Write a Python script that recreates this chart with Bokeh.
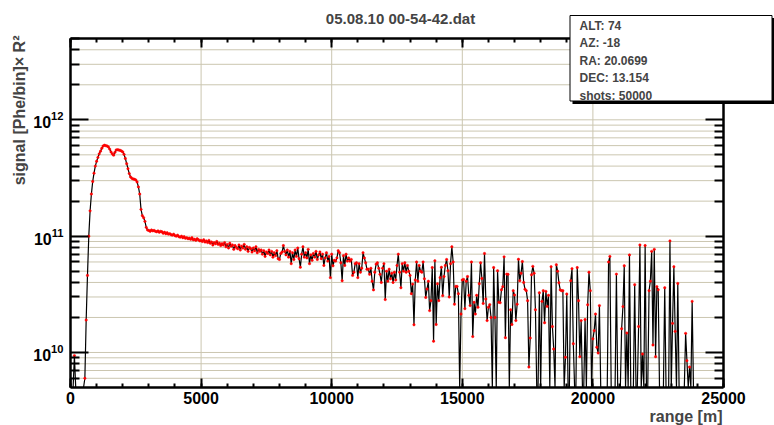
import math
import numpy as np
from bokeh.plotting import figure
from bokeh.models import (Range1d, LinearAxis, LogAxis, FixedTicker, SingleIntervalTicker,
                          LogTickFormatter, Label, BoxAnnotation, ColumnDataSource)
from bokeh.embed import file_html
from bokeh.resources import INLINE

# ---------------- texts ----------------
TITLE = "05.08.10 00-54-42.dat"
X_LABEL = "range [m]"
Y_LABEL = "signal [Phe/bin]\u00d7 R\u00b2"
STATS = ["ALT: 74", "AZ: -18", "RA: 20.0699", "DEC: 13.154", "shots: 50000"]

# ---------------- axes ----------------
X_RANGE = (0, 25000)
Y_RANGE = (5e9, 5e12)
X_TICK_STEP = 5000
X_GRID = [5000, 10000, 15000, 20000]
Y_MAJOR_TICKS = [1e10, 1e11, 1e12]
Y_MINOR_TICKS = [6e9, 7e9, 8e9, 9e9,
                 2e10, 3e10, 4e10, 5e10, 6e10, 7e10, 8e10, 9e10,
                 2e11, 3e11, 4e11, 5e11, 6e11, 7e11, 8e11, 9e11,
                 2e12, 3e12, 4e12, 5e12]

# ---------------- data (signal in units of 1e10, one value per 50 m bin) ----------------
BIN_WIDTH_M = 50.0
SIGNAL_UNIT = 1e10
# 0 - 2950 m
signal_near = [0.1, 0.1, 0.1, 0.94, 0.1, 0.1, 0.1, 0.1, 0.1, 0.1,
               0.1, 0.6, 1.9, 4.6, 10.0, 16.5, 23.0, 29.5, 34.8, 40.0,
               44.0, 47.5, 51.0, 53.8, 57.0, 59.5, 60.5, 60.0, 59.5, 58.5,
               56.0, 53.0, 51.0, 49.7, 52.5, 55.0, 55.3, 55.0, 54.6, 54.0,
               53.0, 50.5, 46.5, 42.0, 38.0, 34.5, 32.3, 31.4, 31.0, 30.8,
               30.4, 29.2, 26.5, 23.0, 17.0, 15.0, 14.4, 13.4, 11.9, 11.3]
# 3000 - 5000 m
signal_plateau = [11.2, 11.0, 11.3, 11.1, 11.2, 11.0, 10.9, 11.1, 10.8, 11.0,
                  10.9, 10.6, 10.8, 10.5, 10.7, 10.4, 10.5, 10.3, 10.2, 10.4,
                  10.1, 10.0, 10.2, 9.9, 9.8, 10.0, 9.7, 9.9, 9.6, 9.7,
                  9.5, 9.6, 9.4, 9.7, 9.3, 9.4, 9.2, 9.5, 9.3, 9.1,
                  9.2]
# 5050 - 9950 m
signal_mid = [9.0, 9.3, 8.9, 9.1, 8.8, 9.2, 8.7, 8.9, 8.4, 8.8,
              8.6, 9.0, 8.5, 8.7, 8.3, 8.6, 8.4, 8.8, 8.1, 8.5,
              7.9, 8.7, 8.2, 8.4, 7.7, 8.3, 8.0, 7.8, 8.4, 7.6,
              8.2, 7.9, 8.5, 7.7, 8.1, 7.4, 8.0, 7.8, 7.3, 7.9,
              7.5, 8.1, 7.2, 7.7, 7.4, 7.6, 7.0, 7.5, 6.7, 7.3,
              7.1, 7.6, 6.9, 7.4, 6.6, 7.2, 6.8, 7.5, 6.4, 6.3,
              7.1, 7.3, 8.3, 7.4, 6.9, 7.6, 6.6, 7.4, 5.8, 7.2,
              6.3, 7.6, 6.7, 7.9, 6.4, 5.4, 7.0, 8.1, 6.6, 7.2,
              6.5, 7.7, 5.8, 6.9, 6.2, 7.1, 6.6, 7.4, 6.3, 6.9,
              7.3, 6.4, 7.0, 5.6, 6.5, 7.2, 6.1, 6.7, 4.4]
# 10000 - 15150 m
signal_far1 = [7.0, 5.56, 6.2, 6.1, 6.5, 7.5, 7.2, 5.9, 4.14, 6.8,
               5.6, 7.0, 6.1, 6.5, 6.1, 6.3, 4.6, 4.9, 5.8, 5.9,
               4.4, 5.8, 4.9, 5.3, 7.2, 6.5, 5.9, 5.2, 5.2, 4.7,
               5.3, 4.1, 3.45, 4.9, 5.75, 5.9, 5.3, 4.7, 4.0, 5.3,
               5.8, 2.85, 5.0, 4.1, 5.2, 4.3, 4.8, 4.0, 4.9, 4.2,
               5.6, 7.0, 4.9, 3.6, 5.8, 5.0, 5.9, 4.9, 5.6, 5.0,
               4.6, 3.2, 3.87, 1.73, 4.2, 6.0, 4.1, 5.6, 5.0, 4.9,
               6.0, 4.3, 2.97, 3.51, 4.1, 2.29, 2.79, 5.37, 1.25, 6.14,
               1.74, 3.9, 2.79, 4.4, 5.4, 3.08, 4.5, 5.6, 6.3, 5.04,
               3.0, 5.8, 8.1, 6.0, 2.6, 3.7, 3.7, 3.2, 0.1, 2.14,
               4.2, 4.25, 2.38, 4.1]
# 15200 - 19850 m
signal_far2 = [4.5, 3.1, 2.53, 6.0, 1.37, 2.70, 2.14, 3.1, 2.45, 3.9,
               5.9, 4.33, 2.64, 7.1, 2.88, 1.88, 2.45, 2.58, 2.0, 0.1,
               5.37, 2.0, 0.1, 5.04, 2.70, 2.68, 3.46, 3.68, 6.64, 1.34,
               4.72, 4.7, 0.1, 2.33, 1.74, 3.40, 3.12, 1.88, 2.6, 6.33,
               4.14, 4.8, 6.05, 4.0, 3.5, 3.4, 2.79, 0.75, 1.33, 4.66,
               5.5, 4.8, 2.33, 0.1, 0.1, 3.26, 0.1, 2.75, 3.40, 1.80,
               3.35, 2.49, 3.1, 0.1, 5.46, 1.67, 1.07, 0.1, 5.68, 5.0,
               3.97, 3.45, 3.40, 3.4, 0.1, 0.91, 3.18, 0.1, 0.1, 4.14,
               5.25, 1.19, 0.1, 0.1, 5.37, 2.79, 0.92, 1.88, 0.1, 0.1,
               1.92, 0.1, 2.57, 4.9]
# 19900 - 23950 m
signal_far3 = [3.40, 0.1, 1.31, 1.54, 2.14, 1.11, 0.99, 2.53, 0.1, 0.1,
               0.1, 0.1, 0.1, 0.1, 6.0, 6.7, 0.1, 0.1, 0.1, 0.1,
               4.72, 0.1, 0.1, 0.1, 1.60, 2.48, 5.56, 0.1, 1.47, 0.1,
               6.9, 0.1, 0.1, 0.1, 3.83, 0.1, 0.1, 1.67, 8.4, 0.1,
               0.97, 0.1, 8.3, 0.1, 0.1, 3.40, 4.1, 7.4, 1.16, 7.7,
               0.92, 3.68, 3.46, 0.1, 0.1, 0.1, 0.1, 3.60, 0.1, 0.1,
               0.1, 9.1, 0.1, 1.78, 5.46, 1.52, 0.1, 3.92, 0.1, 0.1,
               0.1, 0.1, 0.1, 1.46, 0.85, 0.1, 0.75, 0.1, 2.75, 0.1,
               0.1, 0.1]

signal = np.array(signal_near + signal_plateau + signal_mid + signal_far1
                  + signal_far2 + signal_far3) * SIGNAL_UNIT
range_m = np.arange(len(signal)) * BIN_WIDTH_M

# ---------------- layout ----------------
W, H = 774, 425
FRAME_L, FRAME_R, FRAME_T, FRAME_B = 70, 723, 38, 387
FONT = "Liberation Sans"
GRID_COLOR = "#cbc6b0"


def dx(px):
    return X_RANGE[0] + (px - FRAME_L) / (FRAME_R - FRAME_L) * (X_RANGE[1] - X_RANGE[0])


def dy(py):
    l0, l1 = math.log10(Y_RANGE[0]), math.log10(Y_RANGE[1])
    return 10 ** (l0 + (FRAME_B - py) / (FRAME_B - FRAME_T) * (l1 - l0))


# the drawing area spans the whole canvas; the axes are pinned at the frame edges
p = figure(width=W, height=H, x_range=Range1d(dx(0), dx(W)), y_range=Range1d(dy(H), dy(0)),
           y_axis_type="log", x_axis_location=None, y_axis_location=None,
           output_backend="svg", toolbar_location=None,
           min_border=0, min_border_left=0, min_border_right=0,
           min_border_top=0, min_border_bottom=0)
p.title.visible = False
p.outline_line_color = None
p.background_fill_color = "white"
p.border_fill_color = "white"
p.xgrid.visible = False
p.ygrid.visible = False

xticker = SingleIntervalTicker(interval=X_TICK_STEP, num_minor_ticks=5)
yticker = FixedTicker(ticks=Y_MAJOR_TICKS, minor_ticks=Y_MINOR_TICKS)

# grid lines (frame interior only)
p.segment(x0=X_GRID, x1=X_GRID, y0=[Y_RANGE[0]] * len(X_GRID), y1=[Y_RANGE[1]] * len(X_GRID),
          line_color=GRID_COLOR, line_width=1)
ygrid = Y_MAJOR_TICKS + Y_MINOR_TICKS
p.segment(x0=[X_RANGE[0]] * len(ygrid), x1=[X_RANGE[1]] * len(ygrid), y0=ygrid, y1=ygrid,
          line_color=GRID_COLOR, line_width=1)


def style_axis(ax, major_len, minor_len, show_labels):
    ax.axis_line_width = 2.5
    ax.axis_line_color = "black"
    ax.major_tick_in = major_len
    ax.major_tick_out = 0
    ax.minor_tick_in = minor_len
    ax.minor_tick_out = 0
    ax.major_tick_line_width = 2
    ax.minor_tick_line_width = 2
    ax.major_tick_line_color = "black"
    ax.minor_tick_line_color = "black"
    ax.major_label_text_font = FONT
    ax.major_label_text_font_style = "bold"
    ax.major_label_text_font_size = "16px"
    ax.major_label_text_color = "black"
    if not show_labels:
        ax.major_label_text_alpha = 0.0


bottom_ax = LinearAxis(ticker=xticker, fixed_location=Y_RANGE[0], bounds=X_RANGE)
style_axis(bottom_ax, 9, 4, True)
bottom_ax.major_label_standoff = 4
p.add_layout(bottom_ax, "below")

top_ax = LinearAxis(ticker=xticker, fixed_location=Y_RANGE[1], bounds=X_RANGE)
style_axis(top_ax, 9, 4, False)
p.add_layout(top_ax, "above")

left_ax = LogAxis(ticker=yticker, formatter=LogTickFormatter(),
                  fixed_location=X_RANGE[0], bounds=Y_RANGE)
style_axis(left_ax, 18, 9, True)
left_ax.major_label_standoff = 7
p.add_layout(left_ax, "left")

right_ax = LogAxis(ticker=yticker, fixed_location=X_RANGE[1], bounds=Y_RANGE)
style_axis(right_ax, 18, 9, False)
p.add_layout(right_ax, "right")

# data: the line runs down to the frame floor where the signal drops below the axis range
floor = Y_RANGE[0]
line_src = ColumnDataSource(dict(range=range_m, signal=np.maximum(signal, floor)))
shown = signal >= floor
pts_src = ColumnDataSource(dict(range=range_m[shown], signal=signal[shown]))
p.line("range", "signal", source=line_src, line_color="black", line_width=1.2)
p.scatter("range", "signal", source=pts_src, size=2.4, marker="circle",
          fill_color="red", line_color="red", line_width=0.5)

# title and axis titles
p.add_layout(Label(x=dx(400), y=dy(18), text=TITLE, text_align="center", text_baseline="middle",
                   text_font=FONT, text_font_style="bold", text_font_size="15px"))
p.add_layout(Label(x=dx(722), y=dy(415.5), text=X_LABEL, text_align="right",
                   text_baseline="alphabetic", text_font=FONT, text_font_style="bold",
                   text_font_size="16px"))
p.add_layout(Label(x=dx(18.5), y=dy(35), text=Y_LABEL, angle=math.pi / 2, text_align="right",
                   text_baseline="alphabetic", text_font=FONT, text_font_style="bold",
                   text_font_size="16px"))

# stats box with shadow
p.add_layout(BoxAnnotation(left=dx(572), right=dx(774), top=dy(17.5), bottom=dy(103.5),
                           fill_color="black", fill_alpha=1, line_color=None))
p.add_layout(BoxAnnotation(left=dx(569.5), right=dx(771.5), top=dy(15), bottom=dy(100.5),
                           fill_color="white", fill_alpha=1, line_color="black",
                           line_width=1, line_alpha=1))
for i, s in enumerate(STATS):
    p.add_layout(Label(x=dx(579), y=dy(25 + i * 17.5), text=s, text_align="left",
                       text_baseline="middle", text_font=FONT, text_font_style="bold",
                       text_font_size="12px"))

open("out.html", "w").write(file_html(p, INLINE))
